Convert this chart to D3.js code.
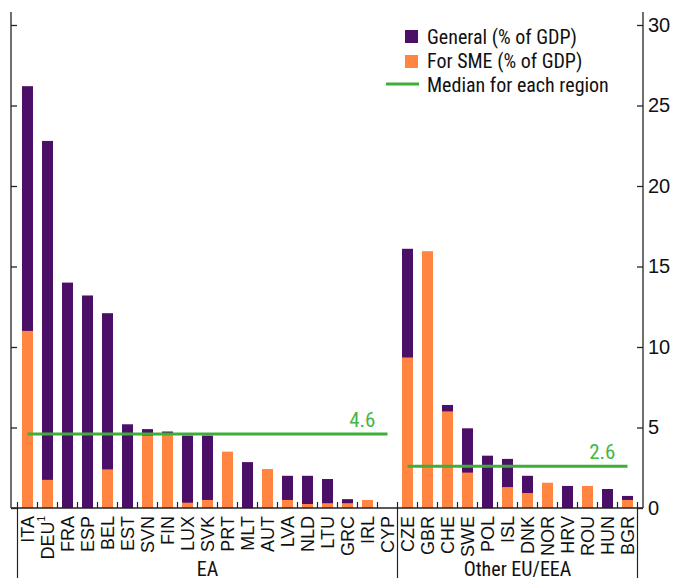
<!DOCTYPE html>
<html>
<head>
<meta charset="utf-8">
<script src="https://cdn.jsdelivr.net/npm/d3@7/dist/d3.min.js"></script>
<style>
  html, body { margin: 0; padding: 0; background: #fff; }
  svg { display: block; font-family: "Liberation Sans Narrow", "Arial Narrow", "Roboto Condensed", sans-serif; }
</style>
</head>
<body>
<svg id="chart" width="679" height="580"></svg>
<script>
// ---- data ----
const categories = ["ITA","DEU","FRA","ESP","BEL","EST","SVN","FIN","LUX","SVK","PRT","MLT","AUT","LVA","NLD","LTU","GRC","IRL","CYP",
                    "CZE","GBR","CHE","SWE","POL","ISL","DNK","NOR","HRV","ROU","HUN","BGR"];
const generalValues = [26.2,22.8,14.0,13.2,12.1,5.2,4.9,4.75,4.5,4.5,0,2.85,0,2.0,2.0,1.8,0.55,0,0,
                       16.1,0,6.4,4.95,3.25,3.05,2.0,0,1.37,0,1.18,0.75];
const smeValues     = [11.0,1.75,0,0,2.4,0,4.5,4.55,0.33,0.5,3.5,0,2.42,0.5,0.25,0.3,0.3,0.5,0,
                       9.35,15.95,6.0,2.2,0,1.3,0.93,1.57,0,1.37,0,0.5];
const regionNames = ["EA","Other EU/EEA"];
const regionFirst = ["ITA","CZE"];
const regionLast  = ["CYP","BGR"];
const regionMedians = [4.6, 2.6];
const yTicks = [0,5,10,15,20,25,30];
const legendLabels = ["General (% of GDP)","For SME (% of GDP)","Median for each region"];

// ---- styles ----
const PURPLE = "#4b0f68", ORANGE = "#ff8540", GREEN = "#3fae38", GREEN_TXT = "#45b63f";

const svg = d3.select("#chart");

const x = d3.scaleBand().domain(categories).range([17.5, 637.5]).paddingInner(0.45).paddingOuter(0.225);
const y = d3.scaleLinear().domain([0, 30]).range([508, 25]);
const step = x.step();
const bw = x.bandwidth();
const boundary = c => x(c) - step * x.paddingInner() / 2;
const xLeft = 11, xRight = 643;

// bars: general (purple), SME (orange) overlaid
svg.append("g").selectAll("rect").data(categories).join("rect")
  .attr("x", c => x(c)).attr("width", bw)
  .attr("y", (c, i) => y(generalValues[i]))
  .attr("height", (c, i) => y(0) - y(generalValues[i]))
  .attr("fill", PURPLE);
svg.append("g").selectAll("rect").data(categories).join("rect")
  .attr("x", c => x(c)).attr("width", bw)
  .attr("y", (c, i) => y(smeValues[i]))
  .attr("height", (c, i) => y(0) - y(smeValues[i]))
  .attr("fill", ORANGE);

// median lines
regionNames.forEach((r, i) => {
  const x1 = x(regionFirst[i]) + bw / 2, x2 = x(regionLast[i]) + bw / 2;
  svg.append("line").attr("x1", x1).attr("x2", x2)
    .attr("y1", y(regionMedians[i])).attr("y2", y(regionMedians[i]))
    .attr("stroke", GREEN).attr("stroke-width", 3);
  svg.append("text").attr("x", x2 - 12).attr("y", y(regionMedians[i]) - 7)
    .attr("text-anchor", "end").attr("fill", GREEN_TXT).attr("font-size", 21)
    .text(regionMedians[i].toFixed(1));
});

// left axis (ticks only)
const leftAxis = svg.append("g").attr("transform", `translate(${xLeft},0)`)
  .call(d3.axisLeft(y).tickValues(yTicks).tickSize(-6).tickSizeOuter(0).tickFormat(""));
leftAxis.select(".domain").remove();
leftAxis.selectAll(".tick line").attr("stroke", "#222").attr("stroke-width", 1.3);
svg.append("line").attr("x1", xLeft).attr("x2", xLeft).attr("y1", 12).attr("y2", y(0))
  .attr("stroke", "#222").attr("stroke-width", 1.3);

// right axis
const rightAxis = svg.append("g").attr("transform", `translate(${xRight},0)`)
  .call(d3.axisRight(y).tickValues(yTicks).tickSize(-6).tickPadding(5).tickSizeOuter(0));
rightAxis.select(".domain").remove();
rightAxis.selectAll(".tick line").attr("stroke", "#222").attr("stroke-width", 1.3);
rightAxis.selectAll(".tick text").attr("font-size", 20).attr("font-family", null).attr("fill", "#111");
svg.append("line").attr("x1", xRight).attr("x2", xRight).attr("y1", 12).attr("y2", y(0))
  .attr("stroke", "#222").attr("stroke-width", 1.3);

// x axis baseline
svg.append("line").attr("x1", xLeft).attr("x2", xRight).attr("y1", y(0)).attr("y2", y(0))
  .attr("stroke", "#222").attr("stroke-width", 1.5);

// category boundary ticks (upward)
const bounds = categories.map(boundary).concat([boundary(categories[categories.length - 1]) + step]);
svg.append("g").selectAll("line").data(bounds).join("line")
  .attr("x1", d => d).attr("x2", d => d).attr("y1", y(0)).attr("y2", y(0) - 6)
  .attr("stroke", "#222").attr("stroke-width", 1.2);

// region separators (downward)
const sepPos = [boundary(regionFirst[0]), boundary(regionFirst[1]), boundary(regionLast[1]) + step];
svg.append("g").selectAll("line").data(sepPos).join("line")
  .attr("x1", d => d).attr("x2", d => d).attr("y1", y(0)).attr("y2", 578)
  .attr("stroke", "#222").attr("stroke-width", 1.2);

// category labels via axis
const xAxis = svg.append("g").attr("transform", `translate(0,${y(0)})`)
  .call(d3.axisBottom(x).tickSize(0).tickSizeOuter(0));
xAxis.select(".domain").remove();
xAxis.selectAll(".tick text")
  .attr("transform", "rotate(-90)")
  .attr("x", -8).attr("y", 0).attr("dy", "0.36em")
  .attr("text-anchor", "end")
  .attr("font-size", 18).attr("font-family", null).attr("fill", "#111");
xAxis.selectAll(".tick text").filter(d => d === "DEU")
  .text("DEU").append("tspan").attr("font-size", 10).attr("dy", "-0.9em").text("1");

// region labels
regionNames.forEach((r, i) => {
  const cx = (boundary(regionFirst[i]) + boundary(regionLast[i]) + step) / 2;
  svg.append("text").attr("x", cx).attr("y", 576).attr("text-anchor", "middle")
    .attr("font-size", 20).attr("fill", "#111").text(r);
});

// legend
const lg = svg.append("g").attr("transform", "translate(386,0)");
lg.append("rect").attr("x", 19).attr("y", 30).attr("width", 13).attr("height", 13).attr("fill", PURPLE);
lg.append("rect").attr("x", 19).attr("y", 55).attr("width", 13).attr("height", 13).attr("fill", ORANGE);
lg.append("line").attr("x1", 0).attr("x2", 33).attr("y1", 84).attr("y2", 84).attr("stroke", GREEN).attr("stroke-width", 3);
[37, 61, 85].forEach((yy, i) => {
  lg.append("text").attr("x", 41).attr("y", yy).attr("dy", "0.35em").attr("font-size", 20)
    .attr("fill", "#111").text(legendLabels[i]);
});
</script>
</body>
</html>
